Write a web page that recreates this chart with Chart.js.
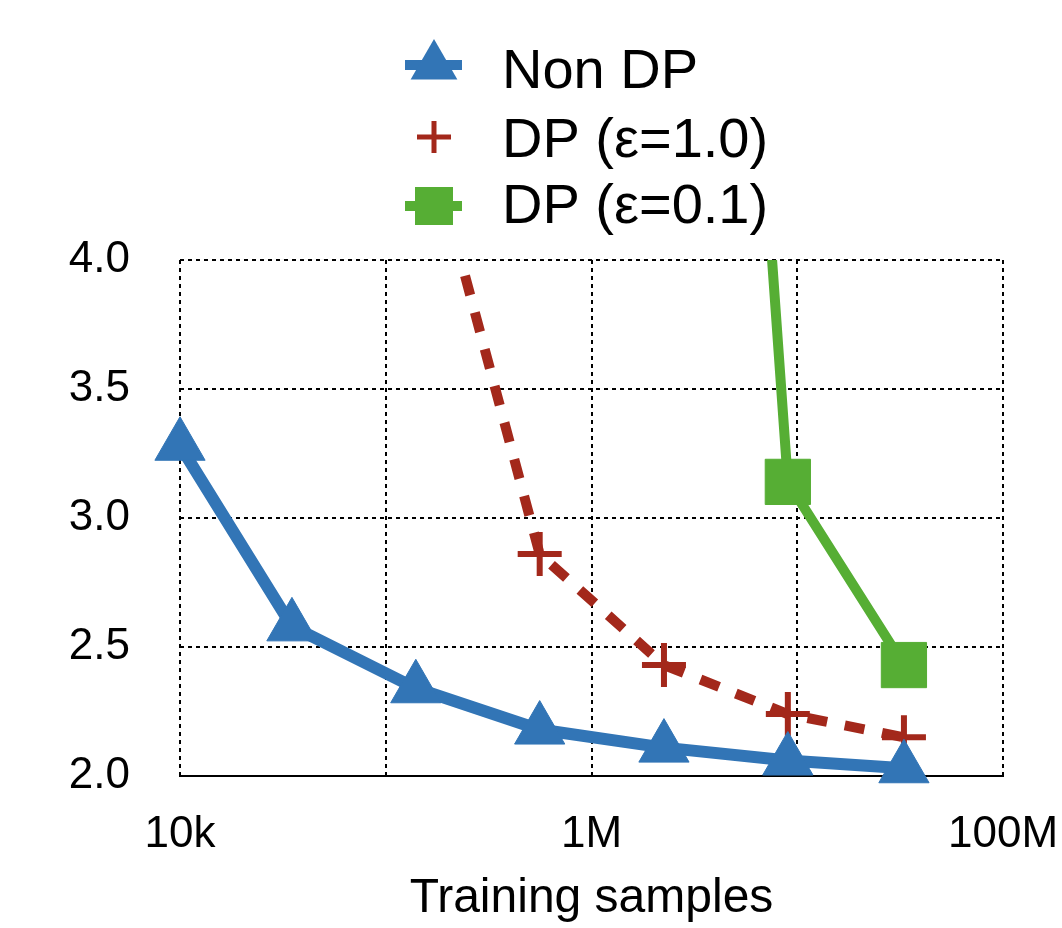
<!DOCTYPE html>
<html>
<head>
<meta charset="utf-8">
<script src="https://cdn.jsdelivr.net/npm/chart.js@4.4.0/dist/chart.umd.min.js"></script>
<style>
  body { margin: 0; background: #fff; }
  #canvas { display: block; }
</style>
</head>
<body>
<canvas id="canvas" width="1062" height="928"></canvas>
<script>
var samples = [1e4, 3.5e4, 1.4e5, 5.6e5, 2.25e6, 9e6, 3.3e7];
var nonDP = [3.28, 2.58, 2.34, 2.18, 2.11, 2.06, 2.03];
var dpEps1 = [null, null, 4.65, 2.86, 2.43, 2.24, 2.15];
var dpEps01 = [null, null, null, null, 9.9, 3.14, 2.43];
var seriesNames = ['Non DP', 'DP (\u03b5=1.0)', 'DP (\u03b5=0.1)'];
var xTickValues = [1e4, 1e5, 1e6, 1e7, 1e8];
var xTickLabels = ['10k', '', '1M', '', '100M'];
var yTickValues = [2.0, 2.5, 3.0, 3.5, 4.0];

var FONT = '"Liberation Sans", Arial, Helvetica, sans-serif';
var blue = '#3275b6', red = '#a3281b', green = '#56ae34';

function pts(ys) {
  return samples.map(function (x, i) { return { x: x, y: ys[i] }; });
}

// legend drawn by hand: one row per series, marker on a short line
var legendPlugin = {
  id: 'stackedLegend',
  afterDraw: function (chart) {
    var ctx = chart.ctx;
    var rows = [
      { y: 65, base: 88 },
      { y: 137, base: 157 },
      { y: 206, base: 223 }
    ];
    ctx.save();
    chart.data.datasets.forEach(function (ds, i) {
      var r = rows[i];
      var cx = 434;
      ctx.fillStyle = ds.borderColor;
      ctx.strokeStyle = ds.borderColor;
      if (ds.pointStyle !== 'cross') {
        ctx.lineWidth = 10;
        ctx.beginPath();
        ctx.moveTo(405, r.y);
        ctx.lineTo(462, r.y);
        ctx.stroke();
      }
      ctx.beginPath();
      if (ds.pointStyle === 'triangle') {
        var rad = 27;
        ctx.moveTo(cx, r.y + 1 - rad);
        ctx.lineTo(cx + rad * 0.866, r.y + 1 + rad / 2);
        ctx.lineTo(cx - rad * 0.866, r.y + 1 + rad / 2);
        ctx.closePath();
        ctx.fill();
      } else if (ds.pointStyle === 'cross') {
        ctx.lineWidth = 5;
        ctx.moveTo(cx - 17, r.y);
        ctx.lineTo(cx + 17, r.y);
        ctx.moveTo(cx, r.y - 16);
        ctx.lineTo(cx, r.y + 16);
        ctx.stroke();
      } else {
        ctx.fillRect(cx - 19, r.y - 19, 38, 38);
      }
      ctx.fillStyle = '#000';
      ctx.font = '56px ' + FONT;
      ctx.textAlign = 'left';
      ctx.textBaseline = 'alphabetic';
      ctx.fillText(ds.label, 502, r.base);
    });
    ctx.restore();
  }
};

var clipArea = { left: 40, right: 40, bottom: 40, top: 0 };

new Chart(document.getElementById('canvas'), {
  type: 'line',
  data: {
    datasets: [{
      label: seriesNames[0],
      data: pts(nonDP),
      borderColor: blue,
      backgroundColor: blue,
      borderWidth: 12,
      pointStyle: 'triangle',
      pointRadius: 29,
      pointHoverRadius: 29,
      pointBackgroundColor: blue,
      pointBorderColor: blue,
      pointBorderWidth: 1,
      clip: clipArea
    }, {
      label: seriesNames[1],
      data: pts(dpEps1),
      borderColor: red,
      backgroundColor: red,
      borderWidth: 10,
      borderDash: [20, 18],
      pointStyle: 'cross',
      pointRadius: 22,
      pointHoverRadius: 22,
      pointBorderColor: red,
      pointBorderWidth: 6,
      clip: clipArea
    }, {
      label: seriesNames[2],
      data: pts(dpEps01),
      borderColor: green,
      backgroundColor: green,
      borderWidth: 10,
      pointStyle: 'rect',
      pointRadius: 32,
      pointHoverRadius: 32,
      pointBackgroundColor: green,
      pointBorderColor: green,
      pointBorderWidth: 1,
      clip: clipArea
    }]
  },
  options: {
    responsive: false,
    animation: false,
    layout: { padding: { top: 260, right: 59, left: 0, bottom: 0 } },
    plugins: {
      legend: { display: false },
      tooltip: { enabled: false }
    },
    scales: {
      x: {
        type: 'logarithmic',
        min: 1e4,
        max: 1e8,
        afterBuildTicks: function (scale) {
          scale.ticks = xTickValues.map(function (v) { return { value: v }; });
        },
        afterFit: function (scale) {
          scale.height = 152;
          scale.paddingLeft = 0;
          scale.paddingRight = 0;
        },
        ticks: {
          autoSkip: false,
          maxRotation: 0,
          padding: 32,
          color: '#000',
          font: { family: FONT, size: 44 },
          callback: function (v, i) { return xTickLabels[i]; }
        },
        grid: {
          color: '#000',
          lineWidth: 2,
          drawTicks: false
        },
        border: { display: true, color: '#000', width: 2, dash: [4, 4] },
        title: {
          display: true,
          text: 'Training samples',
          color: '#000',
          font: { family: FONT, size: 48 },
          padding: { top: 0, bottom: 0 }
        }
      },
      y: {
        min: 2,
        max: 4,
        afterBuildTicks: function (scale) {
          scale.ticks = yTickValues.map(function (v) { return { value: v }; });
        },
        afterFit: function (scale) { scale.width = 180; },
        ticks: {
          padding: 50,
          color: '#000',
          font: { family: FONT, size: 44 },
          callback: function (v) { return v.toFixed(1); }
        },
        grid: {
          color: '#000',
          lineWidth: 2,
          drawTicks: false
        },
        border: { display: false, dash: [4, 4] }
      }
    }
  },
  plugins: [legendPlugin]
});
</script>
</body>
</html>
